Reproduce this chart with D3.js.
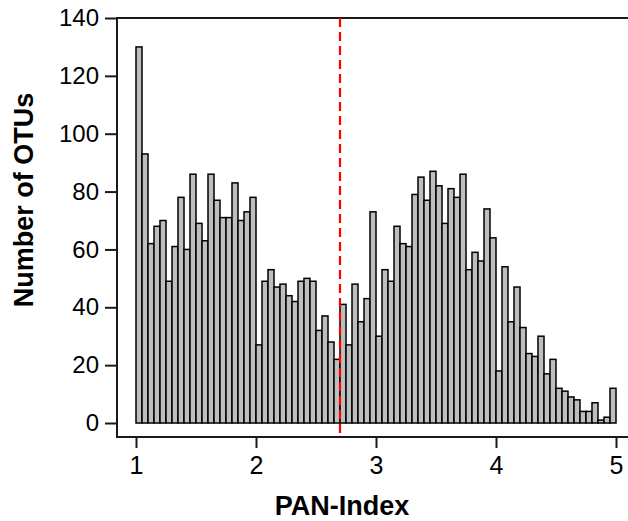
<!DOCTYPE html>
<html><head><meta charset="utf-8">
<script src="https://cdn.jsdelivr.net/npm/d3@7"></script>
<style>body{margin:0;background:#fff}svg{display:block}</style>
</head><body><svg id="c" width="628" height="521"></svg>
<script>
// bin start positions (width 0.05) from 1.00 to 4.95
const binStart = d3.range(80).map(i => +(1 + i * 0.05).toFixed(2));
const binWidth = 0.05;
const counts = [130,93,62,68,70,49,61,78,60,86,69,63,86,77,71,71,83,70,73,78,
  27,49,53,47,48,44,42,49,50,49,32,37,28,22,41,27,48,35,43,73,
  30,53,49,68,62,61,79,85,77,87,82,69,81,78,86,53,59,56,74,64,
  18,54,35,47,33,24,23,30,17,22,12,11,9,8,4,4,7,1,2,12];
const xTicks = [1,2,3,4,5];
const yTicks = [0,20,40,60,80,100,120,140];
const threshold = 2.7;
const xLabel = "PAN-Index";
const yLabel = "Number of OTUs";

const svg = d3.select("#c");
const x = d3.scaleLinear().domain([1,5]).range([136,616]);
const y = d3.scaleLinear().domain([0,140]).range([423,18]);
const axisX = 117, axisY = 437, topY = 18;
const font = "Liberation Sans, Arial, Helvetica, sans-serif";

// bars
svg.append("g").selectAll("rect").data(counts).join("rect")
  .attr("x", (d,i) => x(binStart[i]))
  .attr("width", (d,i) => x(binStart[i] + binWidth) - x(binStart[i]))
  .attr("y", d => y(d))
  .attr("height", d => y(0) - y(d))
  .attr("fill", "#bebebe").attr("stroke", "#000").attr("stroke-width", 1.5);

// frame lines
const ink = "#1a1a1a";
svg.append("line").attr("x1", axisX).attr("x2", axisX).attr("y1", topY-1).attr("y2", axisY+1)
  .attr("stroke", ink).attr("stroke-width", 2);
svg.append("line").attr("x1", axisX).attr("x2", 628).attr("y1", axisY).attr("y2", axisY)
  .attr("stroke", ink).attr("stroke-width", 2);
svg.append("line").attr("x1", axisX).attr("x2", 628).attr("y1", topY).attr("y2", topY)
  .attr("stroke", ink).attr("stroke-width", 2);

// y axis ticks
const gy = svg.append("g").attr("transform", `translate(${axisX},0)`)
  .call(d3.axisLeft(y).tickValues(yTicks).tickSize(12).tickSizeOuter(0).tickPadding(6));
gy.select(".domain").remove();
gy.selectAll(".tick line").attr("stroke", ink).attr("stroke-width", 2);
gy.selectAll(".tick text").attr("font-family", font)
  .attr("font-size", 24).attr("fill", "#000");

// x axis ticks
const gx = svg.append("g").attr("transform", `translate(0,${axisY})`)
  .call(d3.axisBottom(x).tickValues(xTicks).tickSize(11).tickSizeOuter(0).tickPadding(8).tickFormat(d3.format("d")));
gx.select(".domain").remove();
gx.selectAll(".tick line").attr("stroke", ink).attr("stroke-width", 2);
gx.selectAll(".tick text").attr("font-family", font)
  .attr("font-size", 25).attr("fill", "#000");

// threshold line
svg.append("line").attr("x1", x(threshold)).attr("x2", x(threshold))
  .attr("y1", topY).attr("y2", axisY)
  .attr("stroke", "#ff0000").attr("stroke-width", 2.2).attr("stroke-dasharray", "9,5");

// titles
svg.append("text").attr("x", 342).attr("y", 515).attr("text-anchor", "middle")
  .attr("font-family", font).attr("font-weight", "bold")
  .attr("font-size", 27).text(xLabel);
svg.append("text").attr("transform", "translate(33,200) rotate(-90)").attr("text-anchor", "middle")
  .attr("font-family", font).attr("font-weight", "bold")
  .attr("font-size", 27).text(yLabel);
</script></body></html>
